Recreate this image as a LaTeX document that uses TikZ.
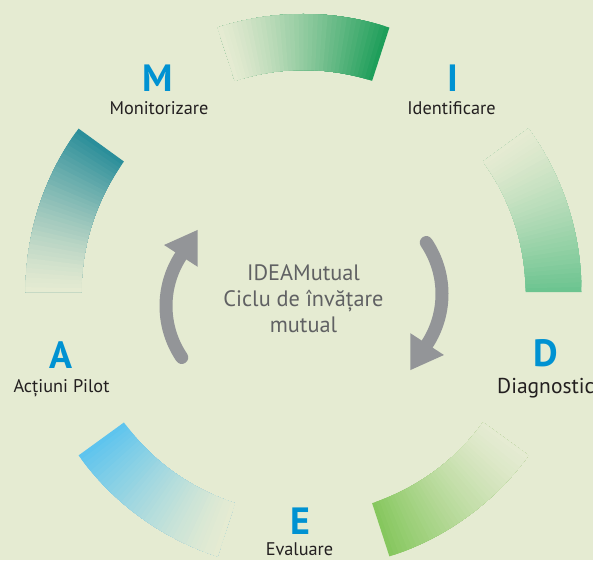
\documentclass[tikz,border=0pt]{standalone}
\usepackage{fontspec}
\setmainfont{PT Sans}
\usetikzlibrary{arrows.meta,calc}

\definecolor{bgcream}{RGB}{229,235,210}
\definecolor{idgreen}{RGB}{30,158,90}
\definecolor{diagreen}{RGB}{108,196,144}
\definecolor{evgreen}{RGB}{134,199,94}
\definecolor{apblue}{RGB}{94,196,238}
\definecolor{moteal}{RGB}{43,142,154}
\definecolor{letterblue}{RGB}{0,146,210}
\definecolor{labelgray}{RGB}{35,31,32}
\definecolor{centergray}{RGB}{96,97,99}
\definecolor{arrowgray}{RGB}{147,149,152}

\tikzset{
  letter/.style={font=\bfseries\fontsize{38}{38}\selectfont, text=letterblue, anchor=base, inner sep=0pt},
  caption/.style={font=\fontsize{18.3}{20}\selectfont, text=labelgray, anchor=base, inner sep=0pt},
  cyclearrow/.style={draw=arrowgray, line width=13pt, line cap=round,
    -{Triangle[length=31pt,width=40pt,line width=0pt]}}
}

% one part of the ring, dark at #1 and fading out at #1+36
\newcommand{\ringpart}[2]{%
  \foreach \k in {0,...,35}{%
    \pgfmathtruncatemacro{\mixpct}{100*(1-\k/36)^1.3}%
    \pgfmathsetmacro{\sa}{#1+\k}%
    \pgfmathsetmacro{\ea}{#1+36}%
    \fill[#2!\mixpct!bgcream] ($(ringC)+(\sa:222)$) arc[start angle=\sa, end angle=\ea, radius=222]
      -- ($(ringC)+(\ea:278)$) arc[start angle=\ea, end angle=\sa, radius=278] -- cycle;
  }}

\begin{document}
\begin{tikzpicture}[x=1pt,y=1pt]
  \path[use as bounding box, fill=bgcream] (0,0) rectangle (593,560);
  \coordinate (ringC) at (303.5,268);
  \coordinate (leftC) at (258,254);
  \coordinate (rightC) at (350,266);
  %Ring
  \ringpart{72}{idgreen}
  \ringpart{0}{diagreen}
  \ringpart{288}{evgreen}
  \ringpart{216}{apblue}
  \ringpart{144}{moteal}
  %Letters
  \node[letter] (M) at (158,468) {M};
  \node[letter] (I) at (452.5,468) {I};
  \node[letter] (D) at (546,194) {D};
  \node[letter] (E) at (300,26) {E};
  \node[letter] (A) at (61,192) {A};
  \node[caption] (Mtext) at (159,445) {Monitorizare};
  \node[caption] (Itext) at (451.5,445) {Identificare};
  \node[caption, anchor=base west, font=\fontsize{21.5}{23}\selectfont] (Dtext) at (497,166.5) {Diagnostic};
  \node[caption] (Etext) at (299.5,4.5) {Evaluare};
  \node[caption] (Atext) at (61.5,168) {Acțiuni Pilot};
  %Centre
  \node[font=\fontsize{22.3}{26}\selectfont, text=centergray, align=center] (title) at (303.5,261)
    {IDEAMutual\\Ciclu de învățare\\mutual};
  %Arrows
  \draw[cyclearrow] ($(leftC)+(214:92)$) arc[start angle=214, end angle=147, radius=92] -- ++(57:31);
  \draw[cyclearrow] ($(rightC)+(34:92)$) arc[start angle=34, end angle=-33, radius=92] -- ++(237:31);
\end{tikzpicture}
\end{document}
